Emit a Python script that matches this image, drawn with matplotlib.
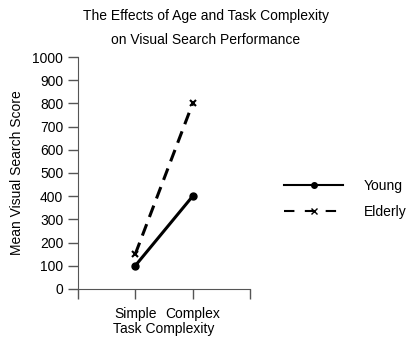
import matplotlib.pyplot as plt
from matplotlib.lines import Line2D

plt.rcParams['font.family'] = ['Liberation Sans', 'DejaVu Sans']

# group means for each age group
conditions = ["Simple", "Complex"]
young = [100, 400]
elderly = [150, 800]

fig = plt.figure(figsize=(4.12, 3.46), dpi=100)
ax = fig.add_axes([0.189, 0.165, 0.418, 0.67])

xs = [1, 2]
ax.plot(xs, young, color='black', lw=2.2, marker='o', ms=5, label='Young')
ax.plot(xs, elderly, color='black', lw=2.2, ls=(0, (4, 2.5)), marker='x', ms=5,
        mew=1.5, label='Elderly')

ax.set_xlim(0, 3)
ax.set_ylim(0, 1000)
ax.set_yticks(range(0, 1001, 100))
ax.set_xticks([0, 1, 2, 3])
ax.set_xticklabels(["", "Simple", "Complex", ""])
ax.tick_params(axis='both', labelsize=10, length=7, width=1, direction='out')
ax.tick_params(axis='x', pad=6)
for s in ['top', 'right']:
    ax.spines[s].set_visible(False)
ax.spines['left'].set_color('#555555')
ax.spines['bottom'].set_color('#555555')
ax.tick_params(colors='#555555', labelcolor='black')

ax.set_xlabel("Task Complexity", fontsize=10, labelpad=1)
ax.set_ylabel("Mean Visual Search Score", fontsize=10, labelpad=6)

fig.text(0.5, 0.955, "The Effects of Age and Task Complexity", ha='center',
         va='center', fontsize=10)
fig.text(0.5, 0.885, "on Visual Search Performance", ha='center',
         va='center', fontsize=10)

handles = [
    Line2D([], [], color='black', lw=1.5, marker='o', ms=4),
    Line2D([], [], color='black', lw=1.5, ls=(0, (5, 5)), marker='x', ms=4),
]
fig.legend(handles, ["Young", "Elderly"], loc='center left',
           bbox_to_anchor=(0.66, 0.425), frameon=False, fontsize=10,
           handlelength=4.2, handletextpad=1.5, labelspacing=0.85)

fig.savefig("out.png", dpi=100)
